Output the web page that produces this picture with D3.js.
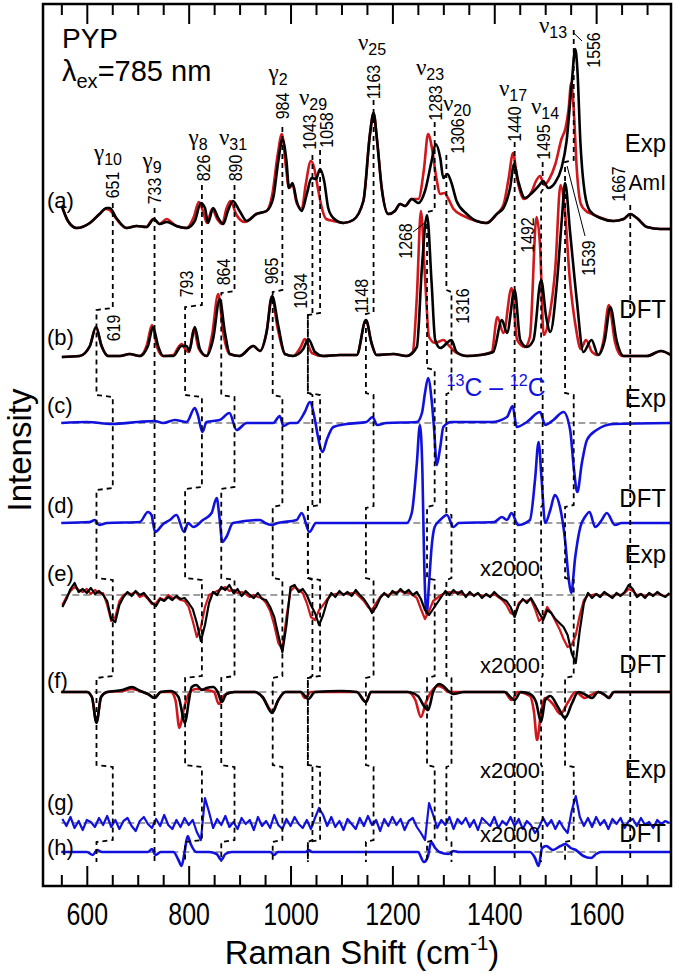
<!DOCTYPE html>
<html lang="en">
<head>
<meta charset="UTF-8">
<title>PYP Raman spectra</title>
<script src="https://cdn.jsdelivr.net/npm/d3@7"></script>
<style>
  body { margin: 0; background: #fff; }
  text { font-family: "Liberation Sans", Arial, Helvetica, sans-serif; fill: #000; }
</style>
</head>
<body>
<script>
// ---------------- data (wavenumber cm-1, intensity in arbitrary units above each baseline) -------------
// (a) experimental resonance Raman, black = 12C, red = 13C
const aBlack = [[551,23],[563,8],[580,1],[606,6],[625,15],[639,21],[645,21],[658,11],[678,1],[698,3],[717,2],[732,10],[743,5],[757,7],[776,3],[796,1],[812,8],[824,26],[832,21],[838,6],[848,21],[858,11],[868,5],[877,18],[887,28],[900,18],[914,8],[933,15],[953,18],[966,31],[976,68],[984,90],[992,68],[997,41],[1004,46],[1012,28],[1022,18],[1032,35],[1041,51],[1050,50],[1058,60],[1066,48],[1074,21],[1084,11],[1104,6],[1123,9],[1143,28],[1156,95],[1163,116],[1170,88],[1179,41],[1192,15],[1205,18],[1215,25],[1225,23],[1238,30],[1251,26],[1264,38],[1277,68],[1285,85],[1294,71],[1300,51],[1308,55],[1316,46],[1326,28],[1346,15],[1365,8],[1385,6],[1405,15],[1418,21],[1431,41],[1439,65],[1447,48],[1460,31],[1474,36],[1487,43],[1496,48],[1506,41],[1519,46],[1532,61],[1542,88],[1552,145],[1559,180],[1563,161],[1569,88],[1578,35],[1588,18],[1608,11],[1634,8],[1654,10],[1667,15],[1680,11],[1700,2],[1726,0],[1750,0]];
const aRed = [[551,23],[563,8],[580,1],[606,6],[625,15],[637,20],[645,19],[658,10],[678,1],[698,3],[717,2],[730,10],[743,5],[757,10],[768,6],[776,3],[796,1],[810,12],[820,27],[828,18],[836,6],[846,20],[856,10],[866,5],[874,20],[882,28],[894,14],[910,7],[933,15],[953,18],[964,34],[975,75],[983,95],[991,62],[997,41],[1004,44],[1012,26],[1022,20],[1030,45],[1040,68],[1046,62],[1054,40],[1062,20],[1070,10],[1084,8],[1104,6],[1123,9],[1143,28],[1156,95],[1163,116],[1170,88],[1179,41],[1192,15],[1205,18],[1215,25],[1225,23],[1238,30],[1251,30],[1262,60],[1270,95],[1278,80],[1286,52],[1294,35],[1302,36],[1310,30],[1320,20],[1340,13],[1365,8],[1385,6],[1405,15],[1418,24],[1428,50],[1437,76],[1445,50],[1458,30],[1474,38],[1482,48],[1490,53],[1498,44],[1508,50],[1520,65],[1532,90],[1540,101],[1546,120],[1551,146],[1556,120],[1562,60],[1570,25],[1580,18],[1592,15],[1605,12],[1634,8],[1654,10],[1667,15],[1680,11],[1700,2],[1726,0],[1750,0]];

// (b) DFT spectra
const bBlack = [[551,0],[586,1],[606,11],[618,30],[629,11],[642,1],[665,1],[684,3],[704,1],[720,11],[730,30],[740,11],[750,1],[770,1],[786,11],[796,11],[801,6],[812,30],[822,8],[835,1],[848,18],[861,58],[871,25],[881,3],[900,1],[927,11],[940,6],[953,25],[964,61],[976,31],[989,3],[1005,1],[1025,8],[1035,18],[1048,5],[1064,1],[1097,2],[1130,2],[1148,37],[1159,14],[1169,2],[1202,3],[1228,1],[1248,10],[1258,90],[1268,142],[1277,74],[1284,17],[1294,9],[1316,17],[1326,5],[1346,1],[1372,2],[1398,5],[1415,37],[1425,24],[1440,67],[1451,17],[1464,10],[1477,17],[1492,77],[1502,40],[1510,25],[1523,74],[1533,140],[1539,174],[1549,124],[1562,57],[1575,5],[1591,17],[1604,2],[1617,17],[1628,50],[1640,17],[1654,1],[1700,1],[1727,6],[1750,1]];
const bRed = [[551,0],[586,1],[606,11],[618,30],[629,11],[642,1],[665,1],[684,3],[704,1],[718,12],[728,32],[738,10],[750,1],[770,2],[780,10],[786,13],[796,6],[801,5],[810,28],[820,8],[835,1],[846,22],[858,63],[868,24],[880,3],[900,1],[927,11],[940,6],[953,25],[963,60],[975,28],[989,3],[1005,1],[1020,10],[1028,18],[1042,4],[1064,1],[1097,2],[1130,2],[1148,37],[1159,14],[1169,2],[1202,3],[1228,1],[1240,5],[1248,60],[1256,146],[1264,80],[1272,20],[1284,14],[1300,17],[1310,12],[1326,4],[1346,1],[1372,2],[1395,5],[1406,40],[1418,24],[1434,69],[1445,17],[1460,10],[1470,20],[1483,140],[1490,110],[1497,22],[1508,40],[1520,90],[1530,172],[1538,150],[1548,80],[1560,30],[1570,8],[1580,17],[1592,5],[1604,2],[1614,15],[1625,52],[1637,15],[1650,1],[1700,1],[1727,6],[1750,1]];

// (c) experimental 13C - 12C difference, (d) DFT difference
const cDiff = [[550,0],[600,1],[650,-1],[700,1],[733,2],[750,0],[773,3],[796,1],[812,15],[818,8],[827,-9],[835,1],[861,3],[880,10],[894,-7],[914,0],[966,0],[979,7],[986,-3],[999,0],[1012,0],[1028,11],[1038,21],[1048,3],[1054,-14],[1063,-29],[1071,-17],[1084,-4],[1110,-1],[1149,1],[1161,6],[1170,-2],[1188,0],[1248,1],[1258,10],[1264,30],[1270,45],[1277,23],[1282,-7],[1287,-42],[1294,-24],[1300,-4],[1316,1],[1395,1],[1425,6],[1436,17],[1444,-4],[1464,1],[1490,11],[1500,-2],[1516,3],[1536,11],[1549,-7],[1556,-44],[1563,-69],[1572,-40],[1582,-17],[1601,-7],[1634,-1],[1750,0]];
const dDiff = [[550,0],[606,1],[616,3],[624,-2],[640,0],[704,1],[720,11],[727,8],[734,-9],[750,-1],[763,3],[776,8],[791,-9],[799,0],[809,-4],[828,3],[845,10],[855,25],[861,3],[866,-19],[874,-14],[887,0],[940,3],[950,0],[963,-2],[975,0],[1012,3],[1022,10],[1037,-9],[1050,0],[1228,0],[1238,10],[1248,60],[1254,98],[1259,50],[1262,-30],[1267,-92],[1272,-60],[1277,-24],[1283,-4],[1294,3],[1307,8],[1320,-4],[1330,0],[1400,1],[1415,6],[1425,3],[1434,10],[1447,-2],[1470,3],[1480,43],[1487,81],[1493,43],[1500,0],[1510,13],[1519,28],[1529,16],[1539,-17],[1546,-55],[1551,-70],[1559,-34],[1569,-4],[1578,6],[1587,11],[1598,-4],[1611,3],[1621,10],[1637,-2],[1650,0],[1750,0]];

// (e) x2000 experimental, sampled every 8 cm-1 from 552 to 1744
const noiseGrid = d3.range(552, 1745, 8);
const eBlack = [
  -12,-4,6,12,3,6,2,7,1,4,
  0,-6,-24,-27,-10,-2,3,-1,4,0,
  2,-3,-8,-11,-4,-6,-2,-5,-1,-4,
  -3,-8,-14,-28,-46,-30,-8,3,0,8,
  5,10,2,6,-1,4,0,-3,2,-4,
  -5,-12,-22,-40,-57,-30,8,10,3,6,
  0,-10,-18,-30,-20,-6,2,-2,4,0,
  3,-1,5,0,-4,-10,-18,-12,-3,2,
  -2,4,1,6,2,5,0,3,-4,-15,
  -20,-14,-8,-2,4,0,5,1,4,-2,
  3,-1,2,-3,1,-2,3,-1,-4,-6,
  -12,-22,-10,-4,-8,-3,-10,-18,-25,-15,
  -18,-24,-28,-32,-40,-58,-68,-35,-8,2,
  -3,1,-2,3,0,-3,2,-1,3,10,
  6,-2,1,-3,2,-1,3,0,-2,2];
const eRed = [
  -10,-2,4,8,5,3,6,1,5,2,
  2,-10,-26,-22,-6,0,2,1,3,-2,
  0,-4,-9,-8,-3,-5,0,-3,-2,-5,
  -6,-12,-26,-42,-32,-12,0,2,4,6,
  8,4,5,2,3,1,-2,0,-2,-3,
  -8,-16,-30,-48,-55,-22,4,8,5,2,
  -8,-22,-25,-15,-10,-4,0,1,2,1,
  1,2,2,-2,-6,-12,-15,-8,-2,1,
  0,2,3,4,2,2,0,-3,-14,-24,
  -16,-6,-3,0,2,3,2,3,1,0,
  1,0,1,-1,0,-1,1,-2,-5,-10,
  -18,-20,-8,-5,-6,-4,-14,-26,-22,-12,
  -18,-26,-34,-44,-52,-50,-40,-20,-5,0,
  0,1,-1,2,0,-2,1,0,2,6,
  4,0,1,-1,1,0,2,0,-1,1];

// (f) x2000 DFT
const fBlack = [[550,0],[600,0],[610,-5],[619,-31],[628,-5],[640,0],[670,2],[688,5],[705,1],[720,-2],[733,-6],[745,0],[765,1],[780,-5],[793,-31],[800,-10],[806,5],[815,7],[826,2],[835,4],[848,5],[857,0],[865,-10],[874,-2],[890,0],[930,0],[945,-5],[964,-21],[976,-8],[990,0],[1020,0],[1035,-7],[1048,0],[1100,1],[1130,0],[1148,-10],[1158,0],[1230,0],[1250,-4],[1262,-14],[1270,-18],[1280,0],[1292,8],[1300,6],[1310,1],[1320,-2],[1340,0],[1420,0],[1440,-8],[1452,0],[1470,-2],[1482,-10],[1492,-30],[1500,-8],[1510,-4],[1525,-15],[1539,-26],[1552,-12],[1565,0],[1580,-3],[1592,-6],[1604,0],[1615,-2],[1625,-6],[1635,0],[1750,0]];
const fRed = [[550,0],[600,0],[610,-5],[619,-30],[628,-5],[640,0],[670,1],[688,3],[705,1],[720,-2],[733,-6],[745,0],[765,0],[774,-8],[782,-36],[790,-18],[800,-2],[815,3],[835,2],[850,0],[859,-12],[870,-3],[890,0],[930,0],[945,-5],[964,-19],[976,-8],[990,0],[1020,0],[1028,-6],[1040,0],[1100,0],[1130,0],[1148,-10],[1158,0],[1230,0],[1245,-8],[1256,-25],[1266,-10],[1276,0],[1290,6],[1300,4],[1310,0],[1340,0],[1420,0],[1434,-8],[1446,0],[1470,-4],[1478,-20],[1484,-48],[1492,-20],[1500,-6],[1515,-12],[1530,-22],[1545,-10],[1560,0],[1578,-6],[1590,-3],[1604,0],[1625,-5],[1635,0],[1750,0]];

// (g) x2000 experimental difference (same grid as e)
const gDiff = [
  4,-3,6,-5,2,-7,3,1,-4,5,
  -2,7,-4,3,-6,2,5,-3,-8,2,
  6,-1,-5,4,-3,8,-2,-6,3,-4,
  5,-2,3,-9,-17,25,11,-5,4,-2,
  7,-4,1,-6,5,-1,3,-7,6,-3,
  2,-5,8,-2,-6,4,-3,6,-1,-5,
  3,-6,5,15,8,-3,6,-4,2,-7,
  4,-1,-6,5,-3,7,-2,3,-8,4,
  -3,6,-2,4,-7,2,5,-4,-10,-17,
  20,8,-5,3,-2,6,-6,4,-1,5,
  -4,3,-7,5,1,-3,6,-5,2,-2,
  6,-3,4,-6,2,-2,-10,-4,5,-3,
  3,-6,2,-5,-10,12,27,6,-3,5,
  -4,6,-2,3,-6,4,-1,5,-5,2,
  4,-3,5,-2,1,-5,3,-1,2,0];

// (h) x2000 DFT difference
const hDiff = [[550,0],[600,0],[612,-3],[620,2],[630,0],[720,0],[728,3],[735,-3],[745,0],[770,0],[780,-8],[786,-14],[792,0],[798,16],[804,8],[815,0],[840,0],[855,-2],[864,-8],[872,-2],[885,0],[960,0],[968,-3],[975,0],[1030,0],[1036,2],[1042,0],[1250,0],[1262,-10],[1270,-4],[1276,10],[1284,4],[1292,0],[1310,-2],[1320,1],[1330,0],[1470,0],[1480,-6],[1487,-14],[1494,4],[1502,6],[1515,2],[1530,6],[1540,8],[1550,4],[1560,2],[1575,-4],[1590,-6],[1600,-2],[1610,0],[1750,0]];

// band assignments: experimental frequency / DFT frequency for each mode
const expPeaks = [651, 733, 826, 890, 984, 1043, 1058, 1163, 1283, 1306, 1440, 1495, 1556, 1667];
const dftPeaks = [619, 733, 793, 864, 965, 1034, 1034, 1148, 1268, 1316, 1440, 1492, 1539, 1667];
const dftOnlyLabels = [619, 793, 864, 965, 1034, 1148, 1268, 1316, 1492, 1539];
const modeNames = [['γ','10'],['γ','9'],['γ','8'],['ν','31'],['γ','2'],['ν','29'],['ν','25'],['ν','23'],['ν','20'],['ν','17'],['ν','14'],['ν','13']];

// trace baselines (intensity units, 1 unit = 1 px)
const baseA = 657, baseB = 529, baseC = 463, baseD = 363, baseE = 291, baseF = 194, baseG = 63, baseH = 34;

// ---------------- drawing -------------
const W = 677, H = 975;
let svg = d3.select('body').append('svg')
    .attr('width', W).attr('height', H)
    .style('display', 'block');

let xScale = d3.scaleLinear().domain([514, 1747]).range([43, 671]);
let yScale = d3.scaleLinear().domain([0, 882]).range([886, 4]);

svg.append('clipPath').attr('id', 'plotclip')
   .append('rect').attr('x', 43).attr('y', 4).attr('width', 628).attr('height', 882);

let plot = svg.append('g').attr('clip-path', 'url(#plotclip)');

function lineAt(base, curve) {
    return d3.line()
        .x(d => xScale(d[0]))
        .y(d => yScale(base + d[1]))
        .curve(curve || d3.curveMonotoneX);
}
function gridPairs(vals) {
    return noiseGrid.map((x, i) => [x, vals[i]]);
}

// gray dashed zero lines for difference traces
[baseC, baseD, baseE, baseF, baseG, baseH].forEach(b => {
    plot.append('line')
        .attr('x1', xScale(550)).attr('x2', xScale(1747))
        .attr('y1', yScale(b)).attr('y2', yScale(b))
        .attr('stroke', '#808080').attr('stroke-width', 1.6)
        .attr('stroke-dasharray', '7,4');
});

// vertical dashed connectors
// y levels (intensity units) where lines start / jog between traces
const startY = [683, 678, 701, 701, 759, 731, 736, 786, 764, 731, 744, 724, 856, 681];
const jogAB  = [578, 578, 581, 595, 596, 573, 573, 574, 676, 596, 596, 696, 726, 596];
const jogBC  = [491, 491, 491, 491, 491, 493, 493, 493, 518, 494, 494, 493, 493, 494];
const jogCD  = [398, 398, 399, 399, 381, 381, 381, 380, 381, 373, 381, 381, 381, 381];
const jogDE  = 308, jogEF = 210, jogFG = 121, jogGH = 46, endY = 24;

expPeaks.forEach((e, i) => {
    let d = dftPeaks[i];
    let xe = xScale(e), xd = xScale(d);
    let levels = [jogAB[i], jogBC[i], jogCD[i], jogDE, jogEF, jogFG, jogGH];
    let p = d3.path();
    p.moveTo(xe, yScale(startY[i]));
    let cur = xe;
    levels.forEach((lv, k) => {
        p.lineTo(cur, yScale(lv));
        let nx = (k % 2 === 0) ? xd : xe;
        p.lineTo(nx, yScale(lv) + 2);
        cur = nx;
    });
    p.lineTo(cur, yScale(endY));
    svg.append('path')
        .attr('d', p.toString())
        .attr('fill', 'none')
        .attr('stroke', '#000')
        .attr('stroke-width', 1.8)
        .attr('stroke-dasharray', '5,4');
});

// spectra
const traces = [
    {data: aRed, base: baseA, color: '#d0171b'},
    {data: aBlack, base: baseA, color: '#000'},
    {data: bRed, base: baseB, color: '#d0171b'},
    {data: bBlack, base: baseB, color: '#000'},
    {data: cDiff, base: baseC, color: '#1111dd'},
    {data: dDiff, base: baseD, color: '#1111dd'},
    {data: gridPairs(eRed), base: baseE, color: '#d0171b', curve: d3.curveLinear},
    {data: gridPairs(eBlack), base: baseE, color: '#000', curve: d3.curveLinear},
    {data: fRed, base: baseF, color: '#d0171b'},
    {data: fBlack, base: baseF, color: '#000'},
    {data: gridPairs(gDiff), base: baseG, color: '#1111dd', curve: d3.curveLinear},
    {data: hDiff, base: baseH, color: '#1111dd'}
];
traces.forEach(t => {
    plot.append('path')
        .datum(t.data)
        .attr('d', lineAt(t.base, t.curve))
        .attr('fill', 'none')
        .attr('stroke', t.color)
        .attr('stroke-width', t.curve ? 2.2 : 2.6)
        .attr('stroke-linejoin', 'round');
});

// thin solid leaders to offset labels
svg.append('line').attr('x1', xScale(1543)).attr('y1', 166).attr('x2', 585).attr('y2', 236)
   .attr('stroke', '#000').attr('stroke-width', 1);
svg.append('line').attr('x1', 413).attr('y1', 232).attr('x2', xScale(1266)).attr('y2', 222)
   .attr('stroke', '#000').attr('stroke-width', 1);
svg.append('line').attr('x1', xScale(1556)).attr('y1', 33).attr('x2', 582).attr('y2', 41)
   .attr('stroke', '#000').attr('stroke-width', 1);

// frame and axes
svg.append('rect').attr('x', 43).attr('y', 4).attr('width', 628).attr('height', 882)
   .attr('fill', 'none').attr('stroke', '#000').attr('stroke-width', 2.5);

const majorTicks = d3.range(600, 1601, 200);
const minorTicks = d3.range(550, 1701, 50).filter(v => v % 200 !== 0);

let xAxis = svg.append('g').attr('transform', 'translate(0,886)')
    .call(d3.axisBottom(xScale).tickValues(majorTicks).tickSize(-20).tickPadding(16).tickFormat(d3.format('d')));
svg.append('g').attr('transform', 'translate(0,886)')
    .call(d3.axisBottom(xScale).tickValues(minorTicks).tickSize(-11).tickFormat(''));
svg.append('g').attr('transform', 'translate(0,4)')
    .call(d3.axisTop(xScale).tickValues(majorTicks).tickSize(-20).tickFormat(''));
svg.append('g').attr('transform', 'translate(0,4)')
    .call(d3.axisTop(xScale).tickValues(minorTicks).tickSize(-11).tickFormat(''));
svg.selectAll('.domain').remove();
svg.selectAll('.tick line').attr('stroke', '#000').attr('stroke-width', 2);
xAxis.selectAll('text')
    .attr('font-size', 32)
    .attr('font-family', '"Liberation Sans", Arial, sans-serif')
    .attr('fill', '#000')
    .attr('transform', 'scale(0.78,1)');

// text helpers
function htext(x, y, size, anchor, sx) {
    return svg.append('text')
        .attr('transform', `translate(${x},${y}) scale(${sx || 1},1)`)
        .attr('font-size', size)
        .attr('text-anchor', anchor || 'start');
}
function vtext(x, y, str, size) {
    svg.append('text')
        .attr('transform', `translate(${x},${y}) rotate(-90) scale(0.84,1)`)
        .attr('font-size', size)
        .attr('text-anchor', 'middle')
        .attr('dy', '0.36em')
        .text(str);
}

// axis titles
let xt = htext(362, 964, 34, 'middle', 0.97);
xt.append('tspan').text('Raman Shift (cm');
xt.append('tspan').attr('font-size', 21).attr('dy', -14).text('-1');
xt.append('tspan').attr('dy', 14).text(')');
svg.append('text')
    .attr('transform', 'translate(31,450) rotate(-90)')
    .attr('font-size', 33).attr('text-anchor', 'middle').text('Intensity');

// title block
htext(62, 48, 28).text('PYP');
let lam = htext(62, 81, 29);
lam.append('tspan').text('λ');
lam.append('tspan').attr('font-size', 20).attr('dy', 7).text('ex');
lam.append('tspan').attr('dy', -7).text('=785 nm');

// trace letters
const letters = ['(a)', '(b)', '(c)', '(d)', '(e)', '(f)', '(g)', '(h)'];
const letterY = [208, 345, 413, 513, 581, 688, 810, 855];
letters.forEach((l, i) => htext(47, letterY[i], 22).text(l));

// right-hand labels
const rightLabels = [['Exp', 152], ['AmI', 190], ['DFT', 318], ['Exp', 407], ['DFT', 507], ['Exp', 563], ['DFT', 673], ['Exp', 778], ['DFT', 842]];
rightLabels.forEach(r => htext(666, r[1], r[0] === 'AmI' ? 22 : 25, 'end', 0.96).text(r[0]));
const multY = [576, 673, 778, 842];
multY.forEach(y => htext(510, y, 22, 'middle').text('x2000'));

// 13C - 12C
let iso = htext(496, 396, 26, 'middle', 0.95).attr('fill', '#1111dd');
iso.append('tspan').attr('font-size', 17).attr('dy', -10).attr('fill', '#1111dd').text('13');
iso.append('tspan').attr('dy', 10).attr('fill', '#1111dd').text('C \u2013 ');
iso.append('tspan').attr('font-size', 17).attr('dy', -10).attr('fill', '#1111dd').text('12');
iso.append('tspan').attr('dy', 10).attr('fill', '#1111dd').text('C');

// peak number labels
const expLabelPos = [[112,185],[154,191],[203,168],[235,168],[282,106],[309,132],[326,130],[373,82],[435,103],[457,136],[514,124],[543,142],[593,50],[618,184]];
expPeaks.forEach((p, i) => vtext(expLabelPos[i][0], expLabelPos[i][1], String(p), 19));
const dftLabelPos = [[113,328],[186,284],[223,272],[271,271],[300,291],[361,296],[405,241],[462,306],[527,235],[588,258]];
dftOnlyLabels.forEach((p, i) => vtext(dftLabelPos[i][0], dftLabelPos[i][1], String(p), 19));

// mode names
const namePos = [[108,160],[152,168],[198,145],[233,145],[278,80],[313,105],[372,50],[430,75],[457,111],[513,96],[545,114],[553,33]];
modeNames.forEach((m, i) => {
    let t = htext(namePos[i][0], namePos[i][1], 23, 'middle');
    t.append('tspan').attr('font-family', '"Liberation Serif", serif').text(m[0]);
    t.append('tspan').attr('font-size', 16).attr('dy', 5).text(m[1]);
});
</script>
</body>
</html>
